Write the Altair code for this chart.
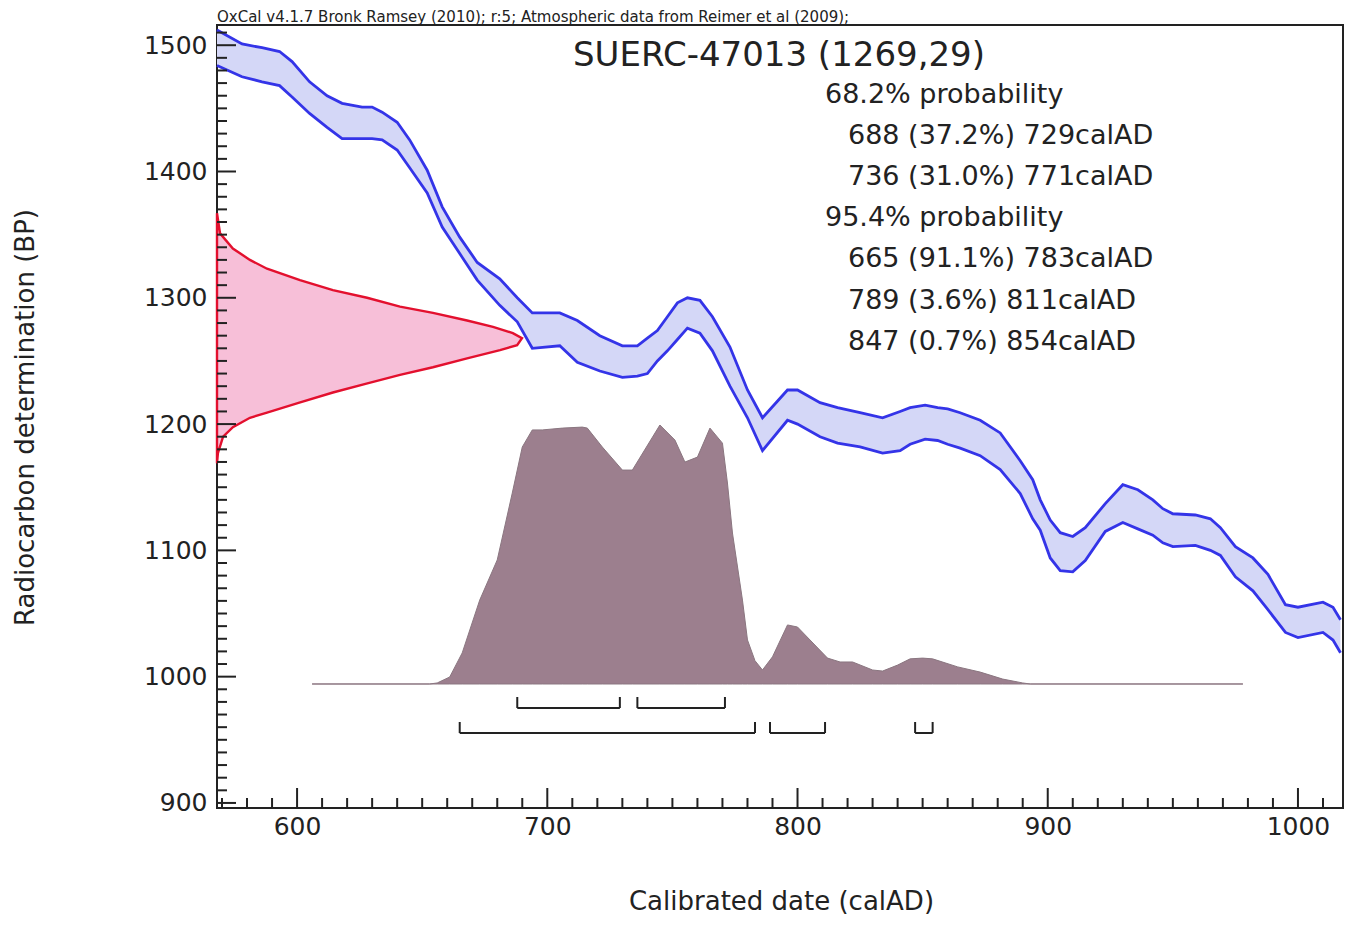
import altair as alt
import pandas as pd

# ---------------- data ----------------
# calibration curve (IntCal09 band): year calAD, upper / lower BP
years = [568, 578, 586, 593, 598, 605, 612, 618, 626, 630, 634, 640, 645, 652, 658, 665, 672, 681, 688, 694,
         705, 712, 721, 730, 736, 740, 744, 748, 752, 756, 761, 766, 773, 780, 786, 796, 800, 809, 816, 825,
         834, 841, 845, 851, 856, 860, 865, 873, 881, 889, 894, 897, 901, 905, 910, 915, 923, 930, 936, 942,
         946, 950, 959, 965, 969, 975, 982, 988, 995, 1000, 1010, 1014, 1017]
upper = [1512, 1501, 1498, 1495, 1487, 1471, 1460, 1454, 1451, 1451, 1447, 1439, 1425, 1401, 1372, 1348, 1328, 1315, 1300, 1288,
         1288, 1282, 1270, 1262, 1262, 1268, 1274, 1285, 1296, 1300, 1298, 1285, 1261, 1227, 1205, 1227, 1227, 1217, 1213, 1209,
         1205, 1210, 1213, 1215, 1213, 1212, 1209, 1203, 1193, 1171, 1156, 1140, 1124, 1114, 1111, 1118, 1137, 1152, 1148, 1140,
         1133, 1129, 1128, 1125, 1118, 1103, 1094, 1081, 1057, 1055, 1059, 1055, 1045]
lower = [1484, 1475, 1471, 1468, 1459, 1446, 1435, 1426, 1426, 1426, 1425, 1417, 1403, 1383, 1356, 1335, 1314, 1294, 1281, 1260,
         1262, 1249, 1242, 1237, 1238, 1240, 1250, 1258, 1267, 1276, 1272, 1258, 1230, 1205, 1179, 1203, 1200, 1190, 1185, 1182,
         1177, 1179, 1184, 1188, 1187, 1184, 1181, 1175, 1164, 1145, 1125, 1116, 1094, 1084, 1083, 1092, 1115, 1122, 1117, 1112,
         1106, 1103, 1104, 1100, 1096, 1079, 1068, 1053, 1035, 1031, 1035, 1029, 1019]

# radiocarbon measurement distribution (1269 +/- 29 BP), relative density
r_bp = [1367, 1351, 1339, 1330, 1323, 1314, 1306, 1300, 1293, 1288, 1282, 1277, 1272, 1268, 1262.5, 1258.5,
        1252, 1245, 1239, 1232, 1225, 1217, 1209, 1205, 1197.5, 1190, 1177, 1169]
r_dens = [0, 0.01, 0.052, 0.108, 0.164, 0.272, 0.38, 0.492, 0.6, 0.708, 0.82, 0.905, 0.97, 1.0, 0.984, 0.928,
          0.82, 0.708, 0.6, 0.49, 0.38, 0.27, 0.164, 0.108, 0.052, 0.02, 0.003, 0]

# calibrated date distribution, relative probability
p_year = [606, 653, 656, 661, 666, 673, 680, 686, 690, 694, 698, 706, 714, 716, 722, 730, 734, 745, 751, 755,
          760, 765, 770, 772, 774, 778, 780, 783, 786, 790, 796, 800, 805, 812, 817, 822, 830, 834, 840, 845,
          850, 854, 864, 873, 882, 890, 893, 978]
p_val = [0, 0, 0.004, 0.027, 0.12, 0.324, 0.479, 0.737, 0.915, 0.981, 0.981, 0.988, 0.992, 0.988, 0.915, 0.826,
         0.826, 1.0, 0.942, 0.857, 0.876, 0.988, 0.93, 0.776, 0.583, 0.324, 0.17, 0.09, 0.054, 0.105, 0.228, 0.22,
         0.17, 0.10, 0.085, 0.085, 0.054, 0.05, 0.073, 0.097, 0.1, 0.097, 0.066, 0.046, 0.019, 0.004, 0, 0]

# probability ranges
r68_start = [688, 736]
r68_end = [729, 771]
r95_start = [665, 789, 847]
r95_end = [783, 811, 854]

# texts
header = "OxCal v4.1.7 Bronk Ramsey (2010); r:5; Atmospheric data from Reimer et al (2009);"
sample_title = "SUERC-47013 (1269,29)"
prob_lines = ["68.2% probability", "688 (37.2%) 729calAD", "736 (31.0%) 771calAD",
              "95.4% probability", "665 (91.1%) 783calAD", "789 (3.6%) 811calAD", "847 (0.7%) 854calAD"]
prob_indent = [0, 1, 1, 0, 1, 1, 1]

x_major = [600, 700, 800, 900, 1000]
x_minor = [v for v in range(570, 1011, 10) if v not in x_major]
y_major = [900, 1000, 1100, 1200, 1300, 1400, 1500]
y_minor = [v for v in range(900, 1511, 10) if v not in y_major]

# ---------------- chart ----------------
W, H = 1126, 783
FONT = "DejaVu Sans"
xs = alt.Scale(domain=[568, 1018], nice=False, zero=False)
ys = alt.Scale(domain=[896, 1516], nice=False, zero=False)
ps = alt.Scale(domain=[-0.4788, 2.5445], nice=False, zero=False)
ds = alt.Scale(domain=[0, 3.692], nice=False, zero=False)

curve = pd.DataFrame({"year": years, "upper": upper, "lower": lower})
rad = pd.DataFrame({"bp": r_bp, "dens": r_dens}).sort_values("bp")
post = pd.DataFrame({"year": p_year, "p": p_val})

band = alt.Chart(curve).mark_area(color="#d4d7f7", opacity=1).encode(
    x=alt.X("year:Q", scale=xs,
            axis=alt.Axis(values=x_major, format="d", title="Calibrated date (calAD)", labelPadding=6,
                          titleX=564, titleY=93, titleBaseline="middle")),
    y=alt.Y("upper:Q", scale=ys,
            axis=alt.Axis(values=y_major, format="d", title="Radiocarbon determination (BP)", labelPadding=10,
                          titleX=-192, titleY=392, titleAngle=270, titleBaseline="middle")),
    y2="lower:Q",
)
up_line = alt.Chart(curve).mark_line(color="#3434e8", strokeWidth=2.8).encode(
    x=alt.X("year:Q", scale=xs, axis=None), y=alt.Y("upper:Q", scale=ys, axis=None))
lo_line = alt.Chart(curve).mark_line(color="#3434e8", strokeWidth=2.8).encode(
    x=alt.X("year:Q", scale=xs, axis=None), y=alt.Y("lower:Q", scale=ys, axis=None))

post_area = alt.Chart(post).mark_area(color="#9c7f8e", stroke="#8a7680", strokeWidth=1).encode(
    x=alt.X("year:Q", scale=xs, axis=None),
    y=alt.Y("p:Q", scale=ps, axis=None),
    y2=alt.datum(0),
)

rad_area = alt.Chart(rad).mark_area(orient="horizontal", color="#f7bfd8", stroke="#e3102e",
                                    strokeWidth=2.4).encode(
    y=alt.Y("bp:Q", scale=ys, axis=None),
    x=alt.X("dens:Q", scale=ds, axis=None),
    x2=alt.datum(0),
)

BR = "#222222"
layers = [post_area, band, up_line, lo_line, rad_area]


def brackets(starts, ends, ybase, ytop):
    df = pd.DataFrame({"s": starts, "e": ends})
    h = alt.Chart(df).mark_rule(color=BR, strokeWidth=2).encode(
        x=alt.X("s:Q", scale=xs, axis=None), x2="e:Q", y=alt.value(ybase))
    v1 = alt.Chart(df).mark_rule(color=BR, strokeWidth=2).encode(
        x=alt.X("s:Q", scale=xs, axis=None), y=alt.value(ybase), y2=alt.value(ytop))
    v2 = alt.Chart(df).mark_rule(color=BR, strokeWidth=2).encode(
        x=alt.X("e:Q", scale=xs, axis=None), y=alt.value(ybase), y2=alt.value(ytop))
    return [h, v1, v2]


layers += brackets(r68_start, r68_end, 683, 672)
layers += brackets(r95_start, r95_end, 708, 697)

# inward ticks
for vals, length in ((x_minor, 10), (x_major, 20)):
    layers.append(alt.Chart(pd.DataFrame({"t": vals})).mark_rule(color=BR, strokeWidth=2).encode(
        x=alt.X("t:Q", scale=xs, axis=None), y=alt.value(H), y2=alt.value(H - length)))
for vals, length in ((y_minor, 10), (y_major, 19)):
    layers.append(alt.Chart(pd.DataFrame({"t": vals})).mark_rule(color=BR, strokeWidth=2).encode(
        y=alt.Y("t:Q", scale=ys, axis=None), x=alt.value(0), x2=alt.value(length)))

# texts
layers.append(alt.Chart(pd.DataFrame({"t": [header]})).mark_text(
    font=FONT, fontSize=15, align="left", baseline="alphabetic", color="#222").encode(
    text="t:N", x=alt.value(0), y=alt.value(-3)))
layers.append(alt.Chart(pd.DataFrame({"t": [sample_title]})).mark_text(
    font=FONT, fontSize=34, align="center", baseline="middle", color="#222").encode(
    text="t:N", x=alt.value(562), y=alt.value(31)))
for i, (line, ind) in enumerate(zip(prob_lines, prob_indent)):
    layers.append(alt.Chart(pd.DataFrame({"t": [line]})).mark_text(
        font=FONT, fontSize=27, align="left", baseline="middle", color="#222").encode(
        text="t:N", x=alt.value(608 + 23 * ind), y=alt.value(70 + i * 41.1)))

chart = alt.layer(*layers).resolve_scale(x="independent", y="independent").properties(
    width=W, height=H,
    background="white",
    autosize=alt.AutoSizeParams(type="none"),
    padding={"left": 209, "top": 17, "right": 1, "bottom": 110},
).configure_view(stroke="#222222", strokeWidth=2).configure_axis(
    labelFont=FONT, labelFontSize=25, labelColor="#222", titleFont=FONT, titleFontSize=26,
    titleColor="#222", titleFontWeight="normal", ticks=False, domain=False, grid=False,
)

chart.save("out.html", embed_options={"renderer": "svg", "actions": False})
